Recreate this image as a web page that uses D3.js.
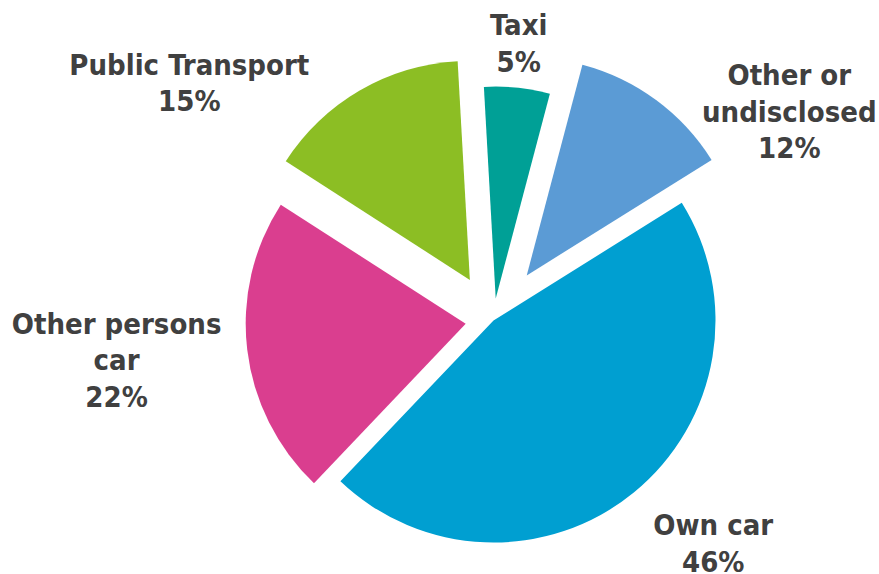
<!DOCTYPE html>
<html>
<head>
<meta charset="utf-8">
<script src="https://cdn.jsdelivr.net/npm/d3@7"></script>
<style>
  body { margin: 0; background: #fff; }
  svg { display: block; }
</style>
</head>
<body>
<svg id="chart" width="879" height="574"></svg>
<script>
// data
var categories = ["Taxi", "Other or undisclosed", "Own car", "Other persons car", "Public Transport"];
var shares = [5, 12, 46, 22, 15];
// label lines as shown on the chart
var labelLines = [["Taxi"], ["Other or", "undisclosed"], ["Own car"], ["Other persons", "car"], ["Public Transport"]];

var colors = ["#00a096", "#5b9bd5", "#009fd1", "#da3e8f", "#8cbe24"];
// per slice: explode distance, radius, label polar position (deg from top, distance)
var explode = [22, 56, 0, 28, 47];
var radii = [212, 218, 222, 220, 219];
var labelPos = [[5.2, 278], [54.8, 362], [135.4, 313], [264.0, 379], [308.0, 386]];

var svg = d3.select("#chart"),
    cx = 493.5,
    cy = 320.5;

var deg = Math.PI / 180;
var start = -3.2 * deg;

var pie = d3.pie()
    .sort(null)
    .value(function (d) { return d; })
    .startAngle(start)
    .endAngle(start + 2 * Math.PI);

var arcs = pie(shares);

var g = svg.append("g")
    .attr("transform", "translate(" + cx + "," + cy + ")");

g.selectAll("path")
    .data(arcs)
    .enter().append("path")
    .attr("d", function (d, i) {
        return d3.arc().innerRadius(0).outerRadius(radii[i])(d);
    })
    .attr("fill", function (d, i) { return colors[i]; })
    .attr("transform", function (d, i) {
        var mid = (d.startAngle + d.endAngle) / 2;
        return "translate(" + (explode[i] * Math.sin(mid)) + "," + (-explode[i] * Math.cos(mid)) + ")";
    });

var lineH = 36.5;
var labels = g.selectAll("text")
    .data(arcs)
    .enter().append("text")
    .attr("text-anchor", "middle")
    .attr("font-family", "'DejaVu Sans Condensed', 'DejaVu Sans', sans-serif")
    .attr("font-weight", "bold")
    .attr("font-size", 29)
    .attr("fill", "#404040")
    .each(function (d, i) {
        var a = labelPos[i][0] * deg, r = labelPos[i][1];
        var x = r * Math.sin(a), y = -r * Math.cos(a);
        var lines = labelLines[i].concat([shares[i] + "%"]);
        var top = y - (lines.length - 1) * lineH / 2 + 10;
        var t = d3.select(this);
        lines.forEach(function (s, k) {
            t.append("tspan")
                .attr("x", x)
                .attr("y", top + k * lineH)
                .text(s);
        });
    });
</script>
</body>
</html>
